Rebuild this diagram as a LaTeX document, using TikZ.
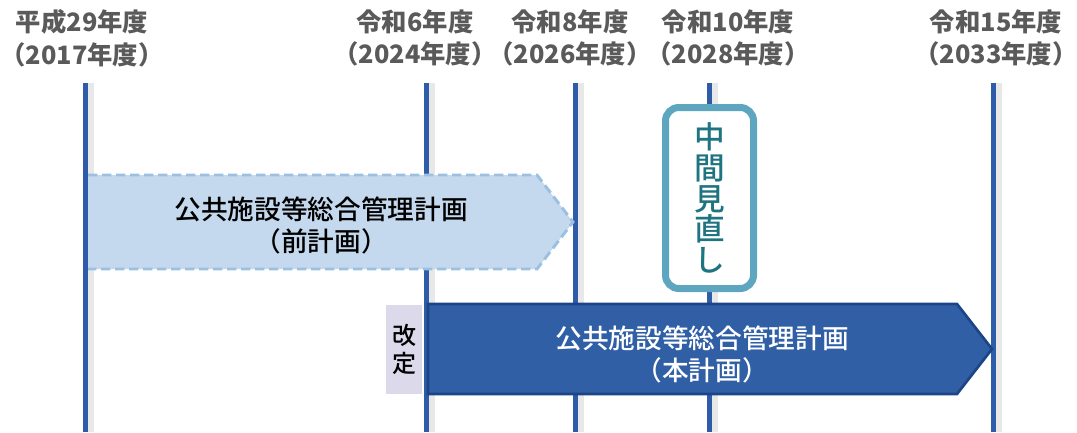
\documentclass[tikz,border=0pt]{standalone}
\usepackage{fontspec}
\usepackage{tikz}
\usepackage{xcolor}
\newfontfamily\jp{Noto Sans CJK JP}[UprightFont=* Medium,BoldFont=* Black]
\definecolor{bleuLigne}{HTML}{2E5CA8}
\definecolor{grisTexte}{HTML}{5A5A5A}
\definecolor{bleuClair}{HTML}{C4D9ED}
\definecolor{bleuTiret}{HTML}{9CC0E2}
\definecolor{bleuFonce}{HTML}{315FA5}
\definecolor{bleuBord}{HTML}{1C4587}
\definecolor{lavande}{HTML}{DCD9EA}
\definecolor{bleuCadre}{HTML}{5EA5BF}
\definecolor{sarcelle}{HTML}{1E7480}

\begin{document}
\begin{tikzpicture}[x=0.75pt,y=-0.75pt]
% Styles (MODIFIABLES)
\tikzstyle{ligne}=[line width=3.75pt,bleuLigne]
\tikzstyle{ombre}=[line width=4pt,black!9]
\tikzstyle{annee}=[font=\jp\bfseries\fontsize{19}{24.5}\selectfont,text=grisTexte,align=center,inner sep=0pt]
\tikzstyle{ancien}=[draw=bleuTiret,line width=2.2pt,dash pattern=on 7pt off 3.5pt]
\tikzstyle{nouveau}=[fill=bleuFonce,draw=bleuBord,line width=2pt]
\tikzstyle{titre}=[font=\jp\fontsize{20}{24}\selectfont,align=center,inner sep=0pt]
\tikzstyle{revision}=[fill=lavande,minimum width=27pt,minimum height=66.75pt,inner sep=0pt,align=center,font=\jp\fontsize{18}{21}\selectfont]
\tikzstyle{parcours}=[draw=bleuCadre,fill=white,line width=5.25pt,rounded corners=10pt,minimum width=66pt,minimum height=135.75pt,inner sep=0pt,align=center,text=sarcelle,font=\jp\fontsize{23}{23}\selectfont]
% Dimensions (MODIFIABLES)
\def\HautLignes{83}
\def\BasLignes{432}
\def\XA{85}
\def\XB{426}
\def\XC{575}
\def\XD{709}
\def\XE{993}
\useasboundingbox (0,0) rectangle (1077,432);
% Annees
\node[annee] (H29) at (82,38) {平成29年度\\（2017年度）};
\node[annee] (R6) at (415,38) {令和6年度\\（2024年度）};
\node[annee] (R8) at (570,38) {令和8年度\\（2026年度）};
\node[annee] (R10) at (728,38) {令和10年度\\（2028年度）};
\node[annee] (R15) at (996,38) {令和15年度\\（2033年度）};
% Lignes verticales et ombres
\draw[ombre] ({\XA+6},\HautLignes) -- ({\XA+6},\BasLignes);
\draw[ombre] ({\XB+6},\HautLignes) -- ({\XB+6},\BasLignes);
\draw[ombre] ({\XC+6},\HautLignes) -- ({\XC+6},\BasLignes);
\draw[ombre] ({\XD+6},\HautLignes) -- ({\XD+6},\BasLignes);
\draw[ombre] ({\XE+6},\HautLignes) -- ({\XE+6},\BasLignes);
\draw[ligne] (\XA,\HautLignes) -- (\XA,\BasLignes);
\draw[ligne] (\XB,\HautLignes) -- (\XB,\BasLignes);
\draw[ligne] (\XC,\HautLignes) -- (\XC,\BasLignes);
\draw[ligne] (\XD,\HautLignes) -- (\XD,\BasLignes);
\draw[ligne] (\XE,\HautLignes) -- (\XE,\BasLignes);
% Plan precedent
\fill[bleuClair] (88,175) -- (537,175) -- (573,222) -- (537,269) -- (88,269) -- cycle;
\draw[ancien] (88,175) -- (537,175) -- (573,222) -- (537,269) -- (88,269);
\node[titre] (Ancien) at (321,225) {公共施設等総合管理計画\\（前計画）};
% Plan actuel
\draw[nouveau] (428,304) -- (957,304) -- (992,349) -- (957,394) -- (428,394) -- cycle;
\node[titre,text=white] (Nouveau) at (702,354) {公共施設等総合管理計画\\（本計画）};
% Revision et examen a mi-parcours
\node[revision] (Rev) at (404,349) {改\\定};
\node[parcours] (Mi) at (709.5,198) {中\\間\\見\\直\\し};
\end{tikzpicture}
\end{document}
